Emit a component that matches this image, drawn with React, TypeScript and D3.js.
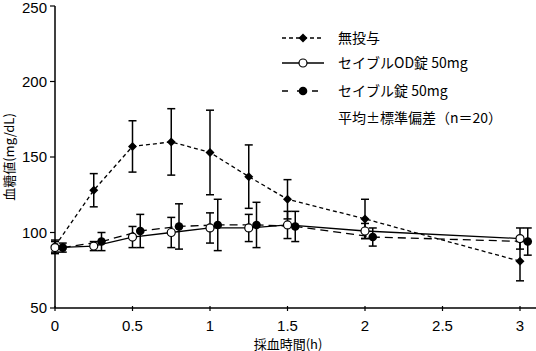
import React from "react";
import * as d3 from "d3";

const times = [0, 0.25, 0.5, 0.75, 1, 1.25, 1.5, 2, 3];
const offsetTimes = [0.05, 0.3, 0.55, 0.8, 1.05, 1.3, 1.55, 2.05, 3.05];

const noDoseMean = [91, 128, 157, 160, 153, 137, 122, 109, 81];
const noDoseSD = [4, 11, 17, 22, 28, 21, 13, 13, 13];

const odMean = [90, 91, 97, 100, 103, 103, 105, 101, 96];
const odSD = [4, 3, 7, 10, 10, 9, 9, 5, 7];

const tabMean = [90, 94, 101, 104, 105, 105, 104, 97, 94];
const tabSD = [3, 6, 11, 15, 17, 15, 10, 6, 9];

const xTicks = [0, 0.5, 1, 1.5, 2, 2.5, 3];
const yTicks = [50, 100, 150, 200, 250];

const legendLabels = ["無投与", "セイブルOD錠 50mg", "セイブル錠 50mg"];
const legendNote = "平均±標準偏差（n＝20）";
const xLabel = "採血時間(h)";
const yLabel = "血糖値(mg/dL)";

const FONT = "'Noto Sans CJK JP', 'Noto Sans', sans-serif";
const NUMFONT = "'Liberation Sans', Arial, sans-serif";

export default function App() {
  const x = d3.scaleLinear().domain([0, 3.1]).range([55, 535.5]);
  const y = d3.scaleLinear().domain([50, 250]).range([308, 6]);

  const series = [
    { t: times, m: noDoseMean, sd: noDoseSD, dash: "4,3", kind: "diamond" },
    { t: times, m: odMean, sd: odSD, dash: "none", kind: "open" },
    { t: offsetTimes, m: tabMean, sd: tabSD, dash: "8,5", kind: "filled" },
  ];

  const line = d3
    .line<[number, number]>()
    .x((d) => x(d[0]))
    .y((d) => y(d[1]));

  const diamondPath = (cx: number, cy: number, r: number) =>
    `M${cx},${cy - r}L${cx + r},${cy}L${cx},${cy + r}L${cx - r},${cy}Z`;

  const marker = (kind: string, cx: number, cy: number, key: string) => {
    if (kind === "diamond")
      return <path key={key} d={diamondPath(cx, cy, 4.5)} fill="#000" />;
    if (kind === "open")
      return <circle key={key} cx={cx} cy={cy} r={4} fill="#fff" stroke="#000" strokeWidth={1.2} />;
    return <circle key={key} cx={cx} cy={cy} r={4.3} fill="#000" />;
  };

  const legendY = [38, 63, 91];

  return (
    <svg
      width={536}
      height={351}
      style={{ position: "absolute", left: 0, top: 0, background: "#fff" }}
      fontFamily={FONT}
    >
      {/* axes */}
      <line x1={55} x2={55} y1={y(250)} y2={y(50)} stroke="#000" strokeWidth={1.5} />
      <line x1={55} x2={536} y1={y(50)} y2={y(50)} stroke="#000" strokeWidth={1.5} />
      {yTicks.map((t) => (
        <g key={"yt" + t}>
          <line x1={50} x2={55} y1={y(t)} y2={y(t)} stroke="#000" strokeWidth={1.2} />
          <text
            x={47}
            y={Math.max(y(t), 8)}
            dy="0.36em"
            textAnchor="end"
            fontSize={15}
            fontFamily={NUMFONT}
            fill="#000"
          >
            {t}
          </text>
        </g>
      ))}
      {xTicks.map((t) => (
        <g key={"xt" + t}>
          <line x1={x(t)} x2={x(t)} y1={y(50) - 2} y2={y(50) + 3} stroke="#000" strokeWidth={1.2} />
          <text x={x(t)} y={330.5} textAnchor="middle" fontSize={15} fontFamily={NUMFONT} fill="#000">
            {t}
          </text>
        </g>
      ))}
      <text x={288} y={348.5} textAnchor="middle" fontSize={13} fill="#000">
        {xLabel}
      </text>
      <text
        transform={`translate(14,157) rotate(-90)`}
        textAnchor="middle"
        fontSize={13}
        fill="#000"
      >
        {yLabel}
      </text>

      {/* lines */}
      {series.map((s, i) => (
        <path
          key={"l" + i}
          d={line(s.t.map((t, j) => [t, s.m[j]] as [number, number])) || ""}
          fill="none"
          stroke="#000"
          strokeWidth={1.3}
          strokeDasharray={s.dash}
        />
      ))}
      {/* error bars */}
      {series.map((s, i) =>
        s.t.map((t, j) => {
          const cx = x(t);
          const top = y(s.m[j] + s.sd[j]);
          const bot = y(s.m[j] - s.sd[j]);
          return (
            <g key={"e" + i + "-" + j} stroke="#000" strokeWidth={1.5}>
              <line x1={cx} x2={cx} y1={top} y2={bot} />
              <line x1={cx - 4} x2={cx + 4} y1={top} y2={top} />
              <line x1={cx - 4} x2={cx + 4} y1={bot} y2={bot} />
            </g>
          );
        })
      )}
      {/* markers */}
      {series.map((s, i) => s.t.map((t, j) => marker(s.kind, x(t), y(s.m[j]), "m" + i + "-" + j)))}

      {/* legend */}
      {series.map((s, i) => (
        <g key={"lg" + i}>
          <line
            x1={282}
            x2={324}
            y1={legendY[i]}
            y2={legendY[i]}
            stroke="#000"
            strokeWidth={1.3}
            strokeDasharray={s.kind === "filled" ? "6,9" : s.dash}
          />
          {marker(s.kind, 303, legendY[i], "lgm" + i)}
          <text x={338} y={legendY[i]} dy="0.36em" fontSize={14} fill="#000">
            {legendLabels[i]}
          </text>
        </g>
      ))}
      <text x={338} y={118} dy="0.36em" fontSize={14} fill="#000">
        {legendNote}
      </text>
    </svg>
  );
}
